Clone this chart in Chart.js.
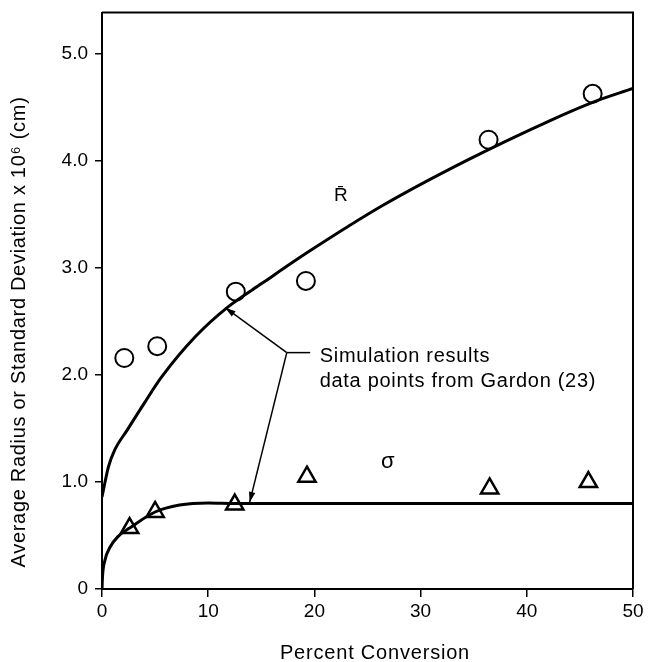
<!DOCTYPE html>
<html>
<head>
<meta charset="utf-8">
<script src="https://cdn.jsdelivr.net/npm/chart.js@4"></script>
<style>
  html, body { margin: 0; padding: 0; background: #fff; }
  #wrap { width: 648px; height: 662px; }
</style>
</head>
<body>
<div id="wrap"><canvas id="chart" width="648" height="662"></canvas></div>
<script>
// simulation curves
const rCurveX = [0, 0.6, 1.2, 2.4, 4.0, 5.6, 8.8, 11.9, 15.1, 19.4, 26.5, 34.4, 42.2, 46.2, 50];
const rCurveY = [0.86, 1.14, 1.30, 1.49, 1.74, 1.98, 2.36, 2.64, 2.86, 3.15, 3.59, 4.01, 4.38, 4.55, 4.68];
const sCurveX = [0, 0.05, 0.28, 0.75, 1.5, 2.6, 5.0, 7.3, 10, 12.5, 20, 30, 40, 50];
const sCurveY = [0, 0.12, 0.27, 0.39, 0.49, 0.57, 0.72, 0.785, 0.805, 0.80, 0.80, 0.80, 0.80, 0.80];

// Gardon (23) data points
const rPointX = [2.1, 5.2, 12.6, 19.2, 36.4, 46.2];
const rPointY = [2.16, 2.27, 2.78, 2.88, 4.20, 4.63];
const sPointX = [2.6, 5.0, 12.5, 19.3, 36.5, 45.8];
const sPointY = [0.57, 0.72, 0.79, 1.05, 0.94, 1.00];

const xTicks = [0, 10, 20, 30, 40, 50];
const yTicks = [0, 1, 2, 3, 4, 5];

const xTitle = 'Percent Conversion';
const yTitle = 'Average Radius or Standard Deviation x 10\u2076 (cm)';

const FONT = 'Liberation Sans, Arial, Helvetica, sans-serif';

const pts = (xs, ys) => xs.map((x, i) => ({ x, y: ys[i] }));

function arrow(ctx, x1, y1, x2, y2) {
  ctx.beginPath();
  ctx.moveTo(x1, y1);
  ctx.lineTo(x2, y2);
  ctx.stroke();
  const a = Math.atan2(y2 - y1, x2 - x1);
  const len = 11, w = 0.3;
  ctx.beginPath();
  ctx.moveTo(x2, y2);
  ctx.lineTo(x2 - len * Math.cos(a - w), y2 - len * Math.sin(a - w));
  ctx.lineTo(x2 - len * Math.cos(a + w), y2 - len * Math.sin(a + w));
  ctx.closePath();
  ctx.fill();
}

const decor = {
  id: 'decor',
  afterDatasetsDraw(chart) {
    const { ctx, chartArea: ca, scales: { x, y } } = chart;
    ctx.save();
    // frame top and right
    ctx.strokeStyle = '#000';
    ctx.lineWidth = 2;
    ctx.beginPath();
    ctx.moveTo(ca.left, ca.top);
    ctx.lineTo(ca.right, ca.top);
    ctx.lineTo(ca.right, ca.bottom);
    ctx.stroke();

    // leader lines
    ctx.fillStyle = '#000';
    ctx.lineWidth = 1.5;
    const jx = x.getPixelForValue(17.4), jy = y.getPixelForValue(2.21);
    ctx.beginPath();
    ctx.moveTo(jx, jy);
    ctx.lineTo(x.getPixelForValue(19.6), jy);
    ctx.stroke();
    arrow(ctx, jx, jy, x.getPixelForValue(11.6), y.getPixelForValue(2.63));
    arrow(ctx, jx, jy, x.getPixelForValue(13.9), y.getPixelForValue(0.81));

    ctx.font = '20px ' + FONT;
    ctx.letterSpacing = '0.7px';
    ctx.textBaseline = 'alphabetic';
    ctx.textAlign = 'left';
    ctx.fillText('Simulation results', x.getPixelForValue(20.5), y.getPixelForValue(2.12));
    ctx.fillText('data points from Gardon (23)', x.getPixelForValue(20.5), y.getPixelForValue(1.89));

    ctx.letterSpacing = '0px';
    ctx.textBaseline = 'middle';
    ctx.textAlign = 'center';
    ctx.font = '19px ' + FONT;
    ctx.fillText('R\u0304', x.getPixelForValue(22.5), y.getPixelForValue(3.68));
    ctx.font = '22px ' + FONT;
    ctx.fillText('\u03C3', x.getPixelForValue(26.9), y.getPixelForValue(1.19));

    // axis titles
    ctx.font = '20px ' + FONT;
    ctx.letterSpacing = '0.8px';
    ctx.textBaseline = 'alphabetic';
    ctx.fillText(xTitle, 375, 659);
    ctx.translate(25, 332);
    ctx.rotate(-Math.PI / 2);
    ctx.letterSpacing = '0.7px';
    ctx.fillText(yTitle, 0, 0);
    ctx.restore();
  }
};

new Chart(document.getElementById('chart'), {
  type: 'scatter',
  data: {
    datasets: [
      {
        data: pts(rCurveX, rCurveY), showLine: true, pointRadius: 0,
        borderColor: '#000', borderWidth: 3, cubicInterpolationMode: 'monotone'
      },
      {
        data: pts(sCurveX, sCurveY), showLine: true, pointRadius: 0,
        borderColor: '#000', borderWidth: 3, cubicInterpolationMode: 'monotone'
      },
      {
        data: pts(rPointX, rPointY), pointStyle: 'circle', pointRadius: 9,
        backgroundColor: '#fff', borderColor: '#000', borderWidth: 2
      },
      {
        data: pts(sPointX, sPointY), pointStyle: 'triangle', pointRadius: 10,
        backgroundColor: '#fff', borderColor: '#000', borderWidth: 2.5
      }
    ]
  },
  options: {
    responsive: false,
    animation: false,
    layout: { padding: { left: 0, right: 15, top: 12, bottom: 0 } },
    plugins: { legend: { display: false }, tooltip: { enabled: false } },
    scales: {
      x: {
        type: 'linear', min: 0, max: 50,
        afterBuildTicks: s => { s.ticks = xTicks.map(v => ({ value: v })); },
        afterFit: s => { s.height = 73; s.paddingLeft = 0; s.paddingRight = 0; },
        grid: { drawOnChartArea: false, color: '#000', tickLength: 8, lineWidth: 1.5 },
        border: { color: '#000', width: 2 },
        ticks: { color: '#000', font: { family: FONT, size: 19 }, padding: 3, maxRotation: 0 }
      },
      y: {
        type: 'linear', min: 0, max: 5.39,
        afterBuildTicks: s => { s.ticks = yTicks.map(v => ({ value: v })); },
        afterFit: s => { s.width = 102; s.paddingTop = 0; s.paddingBottom = 0; },
        grid: { drawOnChartArea: false, color: '#000', tickLength: 7, lineWidth: 1.5 },
        border: { color: '#000', width: 2 },
        ticks: {
          color: '#000', font: { family: FONT, size: 19 }, padding: 7,
          callback: v => v === 0 ? '0' : v.toFixed(1)
        }
      }
    }
  },
  plugins: [decor]
});
</script>
</body>
</html>
